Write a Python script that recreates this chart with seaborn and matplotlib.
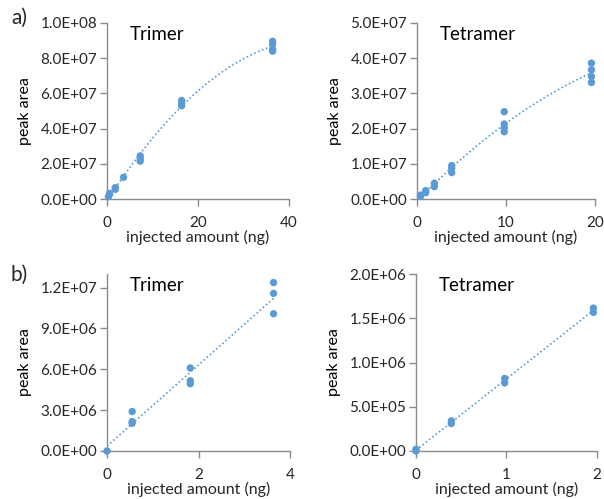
import numpy as np
import pandas as pd
import matplotlib
matplotlib.use("Agg")
import matplotlib.pyplot as plt
import seaborn as sns
from matplotlib.ticker import FuncFormatter

sns.set_style("ticks")
plt.rcParams["font.family"] = ["Lato", "DejaVu Sans"]

# a) Trimer
tri_a_x = [0.3, 0.55, 0.55, 1.82, 1.82, 3.64, 7.3, 7.3, 7.3, 16.4, 16.4, 16.4, 36.4, 36.4, 36.4, 36.4]
tri_a_y = [1.3e6, 2.5e6, 3.2e6, 5.5e6, 6.5e6, 1.23e7, 2.15e7, 2.3e7, 2.45e7, 5.3e7, 5.45e7, 5.6e7,
           8.4e7, 8.5e7, 8.8e7, 8.96e7]
# a) Tetramer
tet_a_x = [0.39, 0.39, 0.98, 0.98, 1.95, 1.95, 3.9, 3.9, 3.9, 9.8, 9.8, 9.8, 9.8, 19.6, 19.6, 19.6, 19.6]
tet_a_y = [0.7e6, 1.1e6, 1.8e6, 2.4e6, 3.5e6, 4.5e6, 7.5e6, 8.7e6, 9.5e6, 1.91e7, 2.02e7, 2.13e7, 2.48e7,
           3.31e7, 3.48e7, 3.67e7, 3.86e7]
# b) Trimer
tri_b_x = [0, 0.55, 0.55, 0.55, 1.82, 1.82, 1.82, 3.64, 3.64, 3.64]
tri_b_y = [0, 2.04e6, 2.16e6, 2.9e6, 4.94e6, 5.16e6, 6.1e6, 1.008e7, 1.158e7, 1.237e7]
# b) Tetramer
tet_b_x = [0, 0, 0.39, 0.39, 0.98, 0.98, 1.96, 1.96]
tet_b_y = [0, 2e4, 3.1e5, 3.4e5, 7.7e5, 8.2e5, 1.566e6, 1.615e6]

panels = [
    dict(x=tri_a_x, y=tri_a_y, title="Trimer", order=2, xlim=(0, 40), xt=[0, 20, 40],
         ylim=(0, 1e8), yt=np.arange(0, 1.01e8, 2e7), pos=[107, 23, 289, 199]),
    dict(x=tet_a_x, y=tet_a_y, title="Tetramer", order=2, xlim=(0, 20), xt=[0, 10, 20],
         ylim=(0, 5e7), yt=np.arange(0, 5.01e7, 1e7), pos=[417, 23, 595, 199]),
    dict(x=tri_b_x, y=tri_b_y, title="Trimer", order=1, xlim=(0, 4), xt=[0, 2, 4],
         ylim=(0, 1.3e7), yt=np.arange(0, 1.21e7, 3e6), pos=[107, 274, 290, 451]),
    dict(x=tet_b_x, y=tet_b_y, title="Tetramer", order=1, xlim=(0, 2), xt=[0, 1, 2],
         ylim=(0, 2e6), yt=np.arange(0, 2.01e6, 5e5), pos=[416, 274, 597, 451]),
]

W, H = 604, 499
fig = plt.figure(figsize=(W / 100, H / 100), dpi=100)
blue = "#5B9BD5"
grey = "#8C8C8C"
txt = "#262626"

for p in panels:
    x0, y0, x1, y1 = p["pos"]
    ax = fig.add_axes([x0 / W, 1 - y1 / H, (x1 - x0) / W, (y1 - y0) / H])
    df = pd.DataFrame({"x": p["x"], "y": p["y"]})
    sns.regplot(data=df, x="x", y="y", order=p["order"], ci=None, scatter=False, ax=ax,
                truncate=True,
                line_kws=dict(color=blue, lw=1.2, linestyle=(0, (1, 1.5))))
    sns.scatterplot(data=df, x="x", y="y", ax=ax, color=blue, s=28, edgecolor="none",
                    zorder=3, clip_on=False)
    ax.set_xlim(*p["xlim"])
    ax.set_ylim(*p["ylim"])
    ax.set_xticks(p["xt"])
    ax.set_yticks(p["yt"])
    ax.yaxis.set_major_formatter(FuncFormatter(lambda v, _: f"{v:.1E}"))
    ax.set_xlabel("injected amount (ng)", fontsize=11.5, color=txt, labelpad=0)
    ax.set_ylabel("peak area", fontsize=11.5, color="black", labelpad=6)
    ax.tick_params(labelsize=11, colors=txt, length=5, width=1, color=grey, pad=2)
    ax.tick_params(axis="x", pad=7)
    for s in ["top", "right"]:
        ax.spines[s].set_visible(False)
    for s in ["left", "bottom"]:
        ax.spines[s].set_color(grey)
        ax.spines[s].set_linewidth(1)
    ax.text(0.125, 0.985, p["title"], transform=ax.transAxes, fontsize=13.5, color="black",
            va="top", ha="left")

fig.text(11 / W, 1 - 18 / H, "a)", fontsize=15, va="center", ha="left")
fig.text(11 / W, 1 - 275 / H, "b)", fontsize=15, va="center", ha="left")

fig.savefig("out.png", dpi=100)
